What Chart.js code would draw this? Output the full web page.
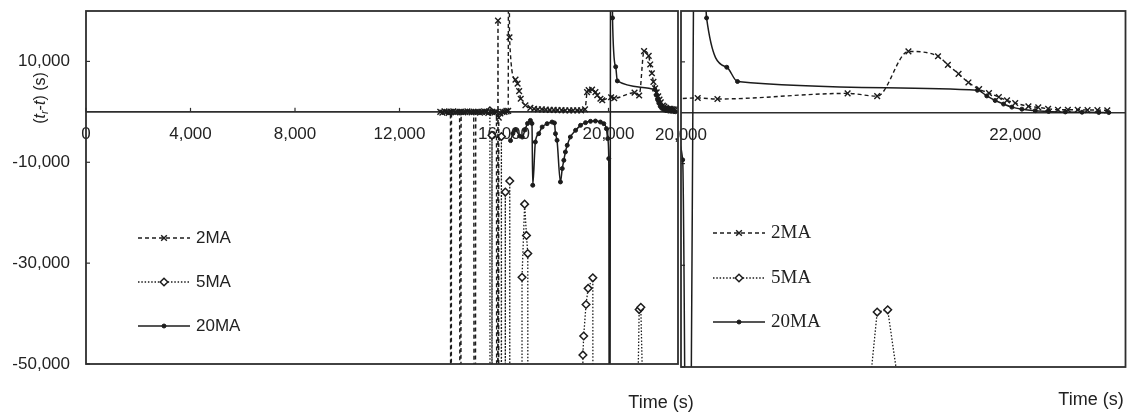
<!DOCTYPE html>
<html>
<head>
<meta charset="utf-8">
<script src="https://cdn.jsdelivr.net/npm/chart.js@4.4.1/dist/chart.umd.min.js"></script>
<style>
  html, body { margin: 0; padding: 0; background: #fff; }
  #wrap { position: relative; width: 1131px; height: 415px; overflow: hidden; }
  #left { position: absolute; left: 0; top: 0; }
  #right { position: absolute; left: 640px; top: 0; }
</style>
</head>
<body>
<div id="wrap">
  <canvas id="left" width="720" height="415"></canvas>
  <canvas id="right" width="491" height="415"></canvas>
</div>
<script>
// series (time in s, t_r - t in s); +-300000 / 150000 = off-scale spikes
const seriesNames = ["2MA", "5MA", "20MA"];

const ma2Time = [13560, 13640, 13720, 13800, 13880, 13950, 13970, 13990, 14060, 14140,
  14220, 14300, 14330, 14360, 14440, 14520, 14600, 14680, 14760, 14840,
  14880, 14920, 15000, 15080, 15160, 15240, 15320, 15400, 15480, 15560,
  15640, 15710, 15740, 15770, 15790, 15800, 15860, 15940, 16020, 16100,
  16160, 16190, 16210, 16440, 16520, 16580, 16640, 16820, 17010, 17150,
  17300, 17450, 17600, 17750, 17900, 18050, 18200, 18350, 18500, 18650,
  18800, 18950, 19100, 19180, 19240, 19370, 19500, 19570, 19690, 19760,
  20100, 20218, 20997, 21174, 21361, 21538, 21597, 21661, 21720, 21784,
  21843, 21902, 21951, 22000, 22079, 22138, 22197, 22256, 22315, 22374,
  22433, 22492, 22551];
const ma2Value = [0, -150, 100, 0, -200, 0, -300000, 0, 100, -100,
  0, 0, -300000, 0, -100, 0, 100, 0, -100, 0,
  -300000, 0, 0, -150, 0, 100, 0, -200, 0, 0,
  -100, 0, -300000, 18100, -300000, -1150, -300, 0, 0, 100,
  200, 150000, 14800, 6400, 5600, 4100, 2600, 1300, 800, 600,
  500, 500, 450, 400, 400, 350, 350, 300, 300, 300,
  300, 300, 500, 3900, 4300, 4400, 3900, 3300, 2600, 2300,
  2900, 2700, 3800, 3250, 12050, 11100, 9400, 7650, 5950, 4650,
  3860, 3080, 2420, 1900, 1250, 1040, 780, 590, 590, 590,
  520, 520, 450];

const ma5Time = [15460, 15480, 15530, 15540, 15560, 15880, 15900, 15920, 16040, 16050,
  16060, 16210, 16220, 16230, 16680, 16690, 16790, 16860, 16910, 16930,
  19000, 19020, 19050, 19140, 19220, 19400, 19430, 21050, 21174, 21237,
  21400];
const ma5Value = [200, -300000, -300000, -4650, -300000, -300000, -4900, -300000, -300000, -15900,
  -300000, -300000, -13700, -300000, -300000, -32800, -18300, -24500, -28100, -300000,
  -300000, -48200, -44450, -38200, -35000, -32900, -300000, -80000, -39200, -38760,
  -76000];

const ma20Time = [16250, 16340, 16440, 16600, 16700, 16800, 16900, 17010, 17070, 17100,
  17200, 17330, 17460, 17650, 17840, 17930, 17970, 18030, 18160, 18230,
  18290, 18350, 18420, 18540, 18740, 18930, 19120, 19310, 19500, 19690,
  19820, 19920, 19970, 20010, 20040, 20100, 20153, 20274, 20338, 21774,
  21830, 21880, 21930, 21980, 22040, 22120, 22200, 22300, 22400, 22500,
  22560];
const ma20Value = [-5700, -4300, -3600, -4800, -5000, -3600, -2300, -1700, -2300, -14550,
  -5980, -4320, -3010, -2340, -2020, -2200, -4320, -5640, -13900, -11250,
  -9600, -7960, -6630, -4990, -3660, -2670, -2140, -1880, -1820, -2020,
  -2340, -3330, -5310, -9270, -120000, 110000, 18630, 8940, 6140, 4430,
  3300, 2400, 1700, 1100, 700, 400, 250, 150, 100, 50,
  30];

const xTicksLeft = [0, 4000, 8000, 12000, 16000, 20000];
const xTicksRight = [20000, 22000];
const yTicks = [-50000, -30000, -10000, 10000];
const xMaxAll = 22660;
const yMin = -50000;
const yMax = 20000;

const SANS = '"Liberation Sans", Arial, sans-serif';
const SERIF = '"Liberation Serif", "Times New Roman", serif';
const INK = "#1c1c1c";
const FRAME = "#2e2e2e";
const TEXT = "#222";

const pairs = (xs, ys) => xs.map((x, i) => ({ x: x, y: ys[i] }));

function makeDatasets() {
  return [
    {
      label: seriesNames[0], data: pairs(ma2Time, ma2Value),
      borderColor: INK, borderWidth: 1.4, borderDash: [4, 3],
      pointStyle: "crossRot", pointRadius: 4, pointBorderWidth: 1.4,
      pointBorderColor: INK, pointBackgroundColor: INK,
      cubicInterpolationMode: "monotone"
    },
    {
      label: seriesNames[1], data: pairs(ma5Time, ma5Value),
      borderColor: INK, borderWidth: 1.3, borderDash: [1.5, 1.8],
      pointStyle: "rectRot", pointRadius: 3.8, pointBorderWidth: 1.5,
      pointBorderColor: INK, pointBackgroundColor: "#fff", tension: 0
    },
    {
      label: seriesNames[2], data: pairs(ma20Time, ma20Value),
      borderColor: INK, borderWidth: 1.5,
      pointStyle: "circle", pointRadius: 2, pointBorderWidth: 1,
      pointBorderColor: INK, pointBackgroundColor: INK,
      cubicInterpolationMode: "monotone"
    }
  ];
}

function drawYTitle(ctx, cx, cy) {
  const parts = [["(", "", 16, 0], ["t", "italic ", 16, 0], ["r", "italic ", 11, 4],
                 ["-", "", 16, 0], ["t", "italic ", 16, 0], [") (s)", "", 16, 0]];
  ctx.save();
  ctx.translate(cx, cy);
  ctx.rotate(-Math.PI / 2);
  ctx.fillStyle = TEXT;
  ctx.textBaseline = "middle";
  ctx.textAlign = "left";
  let total = 0;
  parts.forEach(p => { ctx.font = p[1] + p[2] + "px " + SANS; total += ctx.measureText(p[0]).width; });
  let x = -total / 2;
  parts.forEach(p => {
    ctx.font = p[1] + p[2] + "px " + SANS;
    ctx.fillText(p[0], x, p[3]);
    x += ctx.measureText(p[0]).width;
  });
  ctx.restore();
}

// frame, zero line, inner tick marks, legend and axis titles
const decor = {
  id: "decor",
  beforeDatasetsDraw(chart, args, o) {
    const { ctx, chartArea: a, scales: { x, y } } = chart;
    const y0 = y.getPixelForValue(0);
    ctx.save();
    ctx.strokeStyle = FRAME;
    ctx.lineWidth = 1.6;
    ctx.beginPath(); ctx.moveTo(a.left, y0); ctx.lineTo(a.right, y0); ctx.stroke();
    ctx.lineWidth = 1.2;
    o.xMarks.forEach(v => {
      const px = x.getPixelForValue(v);
      ctx.beginPath(); ctx.moveTo(px, y0); ctx.lineTo(px, y0 - 4); ctx.stroke();
    });
    yTicks.forEach(v => {
      const py = y.getPixelForValue(v);
      ctx.beginPath(); ctx.moveTo(a.left, py); ctx.lineTo(a.left + 4, py); ctx.stroke();
    });
    ctx.restore();
  },
  afterDraw(chart, args, o) {
    const { ctx, chartArea: a } = chart;
    ctx.save();
    ctx.strokeStyle = FRAME;
    ctx.lineWidth = 1.8;
    ctx.strokeRect(a.left, a.top, a.right - a.left, a.bottom - a.top);

    chart.data.datasets.forEach((ds, i) => {
      const yy = o.legendY[i];
      ctx.save();
      ctx.strokeStyle = ds.borderColor;
      ctx.lineWidth = ds.borderWidth;
      ctx.setLineDash(ds.borderDash || []);
      ctx.beginPath(); ctx.moveTo(o.legendX[0], yy); ctx.lineTo(o.legendX[1], yy); ctx.stroke();
      ctx.setLineDash([]);
      ctx.fillStyle = ds.pointBackgroundColor;
      ctx.strokeStyle = ds.pointBorderColor;
      ctx.lineWidth = ds.pointBorderWidth;
      Chart.helpers.drawPoint(ctx, {
        pointStyle: ds.pointStyle, radius: ds.pointRadius, rotation: 0, borderWidth: ds.pointBorderWidth
      }, (o.legendX[0] + o.legendX[1]) / 2, yy);
      ctx.fillStyle = TEXT;
      ctx.font = o.legendFont;
      ctx.textBaseline = "middle";
      ctx.textAlign = "left";
      ctx.fillText(ds.label, o.legendX[2], yy);
      ctx.restore();
    });

    ctx.fillStyle = TEXT;
    ctx.font = "18px " + SANS;
    ctx.textAlign = "center";
    ctx.textBaseline = "middle";
    ctx.fillText("Time (s)", o.xTitle[0], o.xTitle[1]);
    ctx.restore();
    if (o.yTitle.length) drawYTitle(ctx, o.yTitle[0], o.yTitle[1]);
  }
};

function makeOptions(cfg) {
  return {
    responsive: false,
    animation: false,
    events: [],
    layout: { padding: cfg.padding },
    plugins: { legend: { display: false }, tooltip: { enabled: false }, decor: cfg.decor },
    scales: {
      x: {
        type: "linear", min: cfg.xMin, max: xMaxAll, position: { y: 0 },
        grid: { display: false, drawTicks: false }, border: { display: false },
        ticks: {
          padding: 12, color: TEXT, autoSkip: false, maxRotation: 0,
          font: { family: SANS, size: 17 },
          callback: v => v.toLocaleString("en-US")
        },
        afterBuildTicks: s => { s.ticks = cfg.xTicks.map(v => ({ value: v })); },
        afterFit: s => { s.paddingLeft = 0; s.paddingRight = 0; }
      },
      y: {
        type: "linear", min: yMin, max: yMax, position: "left", display: cfg.showY,
        grid: { display: false, drawTicks: false }, border: { display: false },
        ticks: {
          padding: 16, color: TEXT, autoSkip: false,
          font: { family: SANS, size: 17 },
          callback: v => v.toLocaleString("en-US")
        },
        afterBuildTicks: s => { s.ticks = yTicks.map(v => ({ value: v })); },
        afterFit: s => { s.width = cfg.yWidth; s.paddingTop = 0; s.paddingBottom = 0; }
      }
    }
  };
}

new Chart(document.getElementById("left"), {
  type: "line",
  data: { datasets: makeDatasets() },
  plugins: [decor],
  options: makeOptions({
    xMin: 0, xTicks: xTicksLeft, showY: true, yWidth: 86,
    padding: { left: 0, right: 42, top: 11, bottom: 51 },
    decor: {
      xMarks: xTicksLeft,
      legendX: [138, 190, 196], legendY: [238, 282, 326],
      legendFont: "17px " + SANS,
      xTitle: [661, 403], yTitle: [41, 98]
    }
  })
});

new Chart(document.getElementById("right"), {
  type: "line",
  data: { datasets: makeDatasets() },
  plugins: [decor],
  options: makeOptions({
    xMin: 20000, xTicks: xTicksRight, showY: false, yWidth: 0,
    padding: { left: 41, right: 1, top: 11, bottom: 48 },
    decor: {
      xMarks: [],
      legendX: [73, 125, 131], legendY: [233, 278, 322],
      legendFont: "19px " + SERIF,
      xTitle: [451, 400], yTitle: []
    }
  })
});
</script>
</body>
</html>
